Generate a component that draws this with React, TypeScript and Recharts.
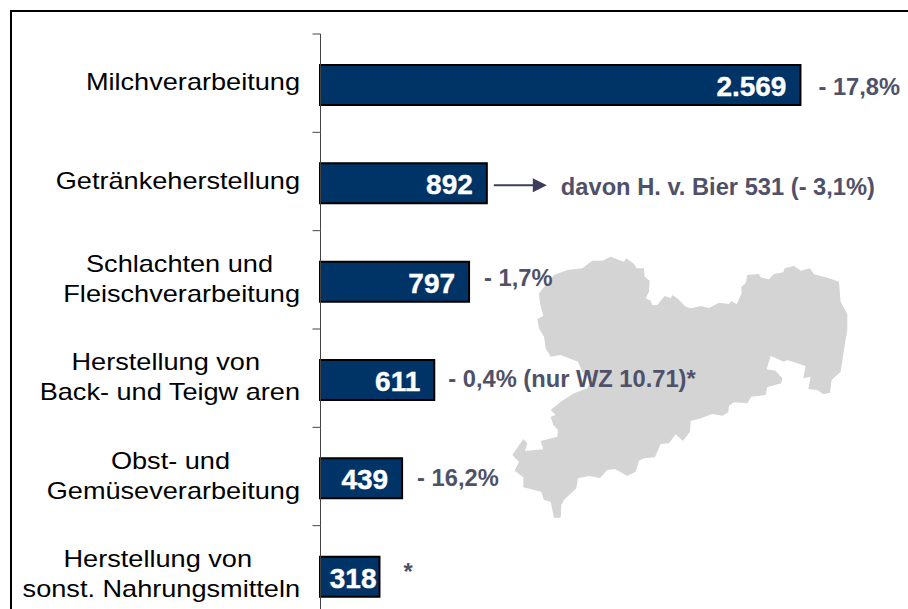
import React from 'react';
import { BarChart, Bar, XAxis, YAxis, LabelList } from 'recharts';

const categories = [
  'Milchverarbeitung',
  'Getränkeherstellung',
  'Schlachten und|Fleischverarbeitung',
  'Herstellung von|Back- und Teigw aren',
  'Obst- und|Gemüseverarbeitung',
  'Herstellung von|sonst. Nahrungsmitteln',
];
const values = [2569, 892, 797, 611, 439, 318];
const annotations = [
  '- 17,8%',
  'davon H. v. Bier 531 (- 3,1%)',
  '- 1,7%',
  '- 0,4% (nur WZ 10.71)*',
  '- 16,2%',
  '*',
];

const chartData = categories.map((name, i) => ({
  name,
  value: values[i],
  annotation: annotations[i],
}));

// layout tweaks per row, the original was placed by hand
const annotationGap = [18, 74, 15, 14, 15, 24];
const annotationDy = [10, 12, 4, 7, 8, 3];
const firstLineRight = [0, 0, 273, 260, 230, 252];

const FONT = '"Liberation Sans", Arial, sans-serif';
const BAND = 590 / 6;
const STRETCH = 1.18;

const CategoryTick = ({ x, y, payload, index }: any) => {
  const lines = String(payload.value).split('|');
  const top = y - BAND / 2 - 2;
  // the tick position handed in sits 8px left of the axis
  const axisX = x + 8.5;
  const drawLine = (text: string, right: number, baseline: number) => (
    <text
      key={text}
      transform={`translate(${right},${baseline}) scale(${STRETCH},1)`}
      textAnchor="end"
      fontFamily={FONT}
      fontSize={23}
      fill="#000"
    >
      {text}
    </text>
  );
  return (
    <g>
      <line x1={axisX - 8} x2={axisX} y1={top} y2={top} stroke="#444" />
      <line x1={axisX} x2={axisX} y1={top} y2={top + BAND} stroke="#444" />
      {lines.length === 1
        ? drawLine(lines[0], 300, y + 5)
        : [
            drawLine(lines[0], firstLineRight[index], y - 10),
            drawLine(lines[1], 300, y + 20),
          ]}
    </g>
  );
};

const ValueLabel = ({ x, y, width, height, value }: any) => {
  const gap = width < 70 ? 3 : 14;
  return (
    <text
      x={x + width - gap}
      y={y + height / 2 + 11}
      textAnchor="end"
      fontFamily={FONT}
      fontWeight="bold"
      fontSize={28}
      fill="#fff"
      stroke="#fff"
      strokeWidth={0.4}
    >
      {Number(value).toLocaleString('de-DE')}
    </text>
  );
};

const AnnotationLabel = ({ x, y, width, height, value, index }: any) => {
  const end = x + width;
  const mid = y + height / 2;
  return (
    <g>
      {index === 1 && (
        <g>
          <line x1={end + 7} x2={end + 48} y1={mid + 2} y2={mid + 2} stroke="#3c3c5c" strokeWidth={2} />
          <polygon
            points={`${end + 46},${mid - 5} ${end + 60},${mid + 2} ${end + 46},${mid + 9}`}
            fill="#3c3c5c"
          />
        </g>
      )}
      <text
        x={end + annotationGap[index]}
        y={mid + annotationDy[index]}
        fontFamily={FONT}
        fontWeight="bold"
        fontSize={23.7}
        fill="#4f5169"
      >
        {value}
      </text>
    </g>
  );
};

const SAXONY =
  '255,160 300,105 340,90 385,85 415,62 445,62 470,50 510,65 517,55 540,72 548,85 570,85 572,110 587,122 585,155 575,175 590,182 595,195 610,195 632,168 650,175 655,165 670,175 695,200 712,205 740,198 765,204 795,188 825,192 832,183 848,193 863,160 862,140 875,130 880,105 915,102 920,112 945,118 960,102 988,97 992,85 1020,78 1040,92 1068,85 1080,103 1120,113 1155,125 1160,185 1180,222 1180,270 1170,330 1160,395 1133,420 1128,458 1108,463 1090,450 1063,447 1070,410 1048,415 1055,378 1000,360 990,365 950,348 938,388 965,392 985,415 982,430 940,442 935,465 892,470 880,490 840,487 825,497 823,517 805,527 775,522 740,535 710,543 708,575 687,603 665,583 645,610 620,612 603,652 570,655 555,662 545,695 520,708 483,687 460,690 438,714 405,708 372,715 367,745 330,780 322,795 320,833 300,833 290,785 270,780 262,755 208,742 208,712 182,692 195,665 175,645 208,597 220,610 213,633 268,628 260,603 310,590 312,570 298,555 290,530 305,525 290,510 320,485 360,460 400,445 415,420 385,395 372,365 320,345 290,350 275,325 270,290 255,265 250,237 268,228 258,190';

export default function App() {
  return (
    <div
      style={{
        position: 'absolute',
        left: 0,
        top: 0,
        width: 908,
        height: 609,
        overflow: 'hidden',
        background: '#fff',
      }}
    >
      {/* Sachsen outline sits behind the chart */}
      <svg width={908} height={609} style={{ position: 'absolute', left: 0, top: 0 }}>
        <polygon points={SAXONY} fill="#d4d4d4" transform="translate(454,240) scale(0.3333)" />
      </svg>
      <div
        style={{
          position: 'absolute',
          left: 10,
          top: 10,
          width: 898,
          height: 599,
          borderTop: '2px solid #000',
          borderLeft: '2px solid #000',
        }}
      />
      <div style={{ position: 'absolute', left: 0, top: 0 }}>
        <BarChart
          width={908}
          height={626}
          data={chartData}
          layout="vertical"
          margin={{ top: 36, right: 0, bottom: 0, left: 0 }}
          barCategoryGap={0}
        >
          <XAxis type="number" domain={[0, 3144]} hide />
          <YAxis
            type="category"
            dataKey="name"
            width={320}
            axisLine={false}
            tickLine={false}
            interval={0}
            tick={CategoryTick}
          />
          <Bar
            dataKey="value"
            fill="#003366"
            stroke="#000"
            strokeWidth={2}
            barSize={40}
            isAnimationActive={false}
          >
            <LabelList dataKey="value" content={ValueLabel} />
            <LabelList dataKey="annotation" content={AnnotationLabel} />
          </Bar>
        </BarChart>
      </div>
    </div>
  );
}
